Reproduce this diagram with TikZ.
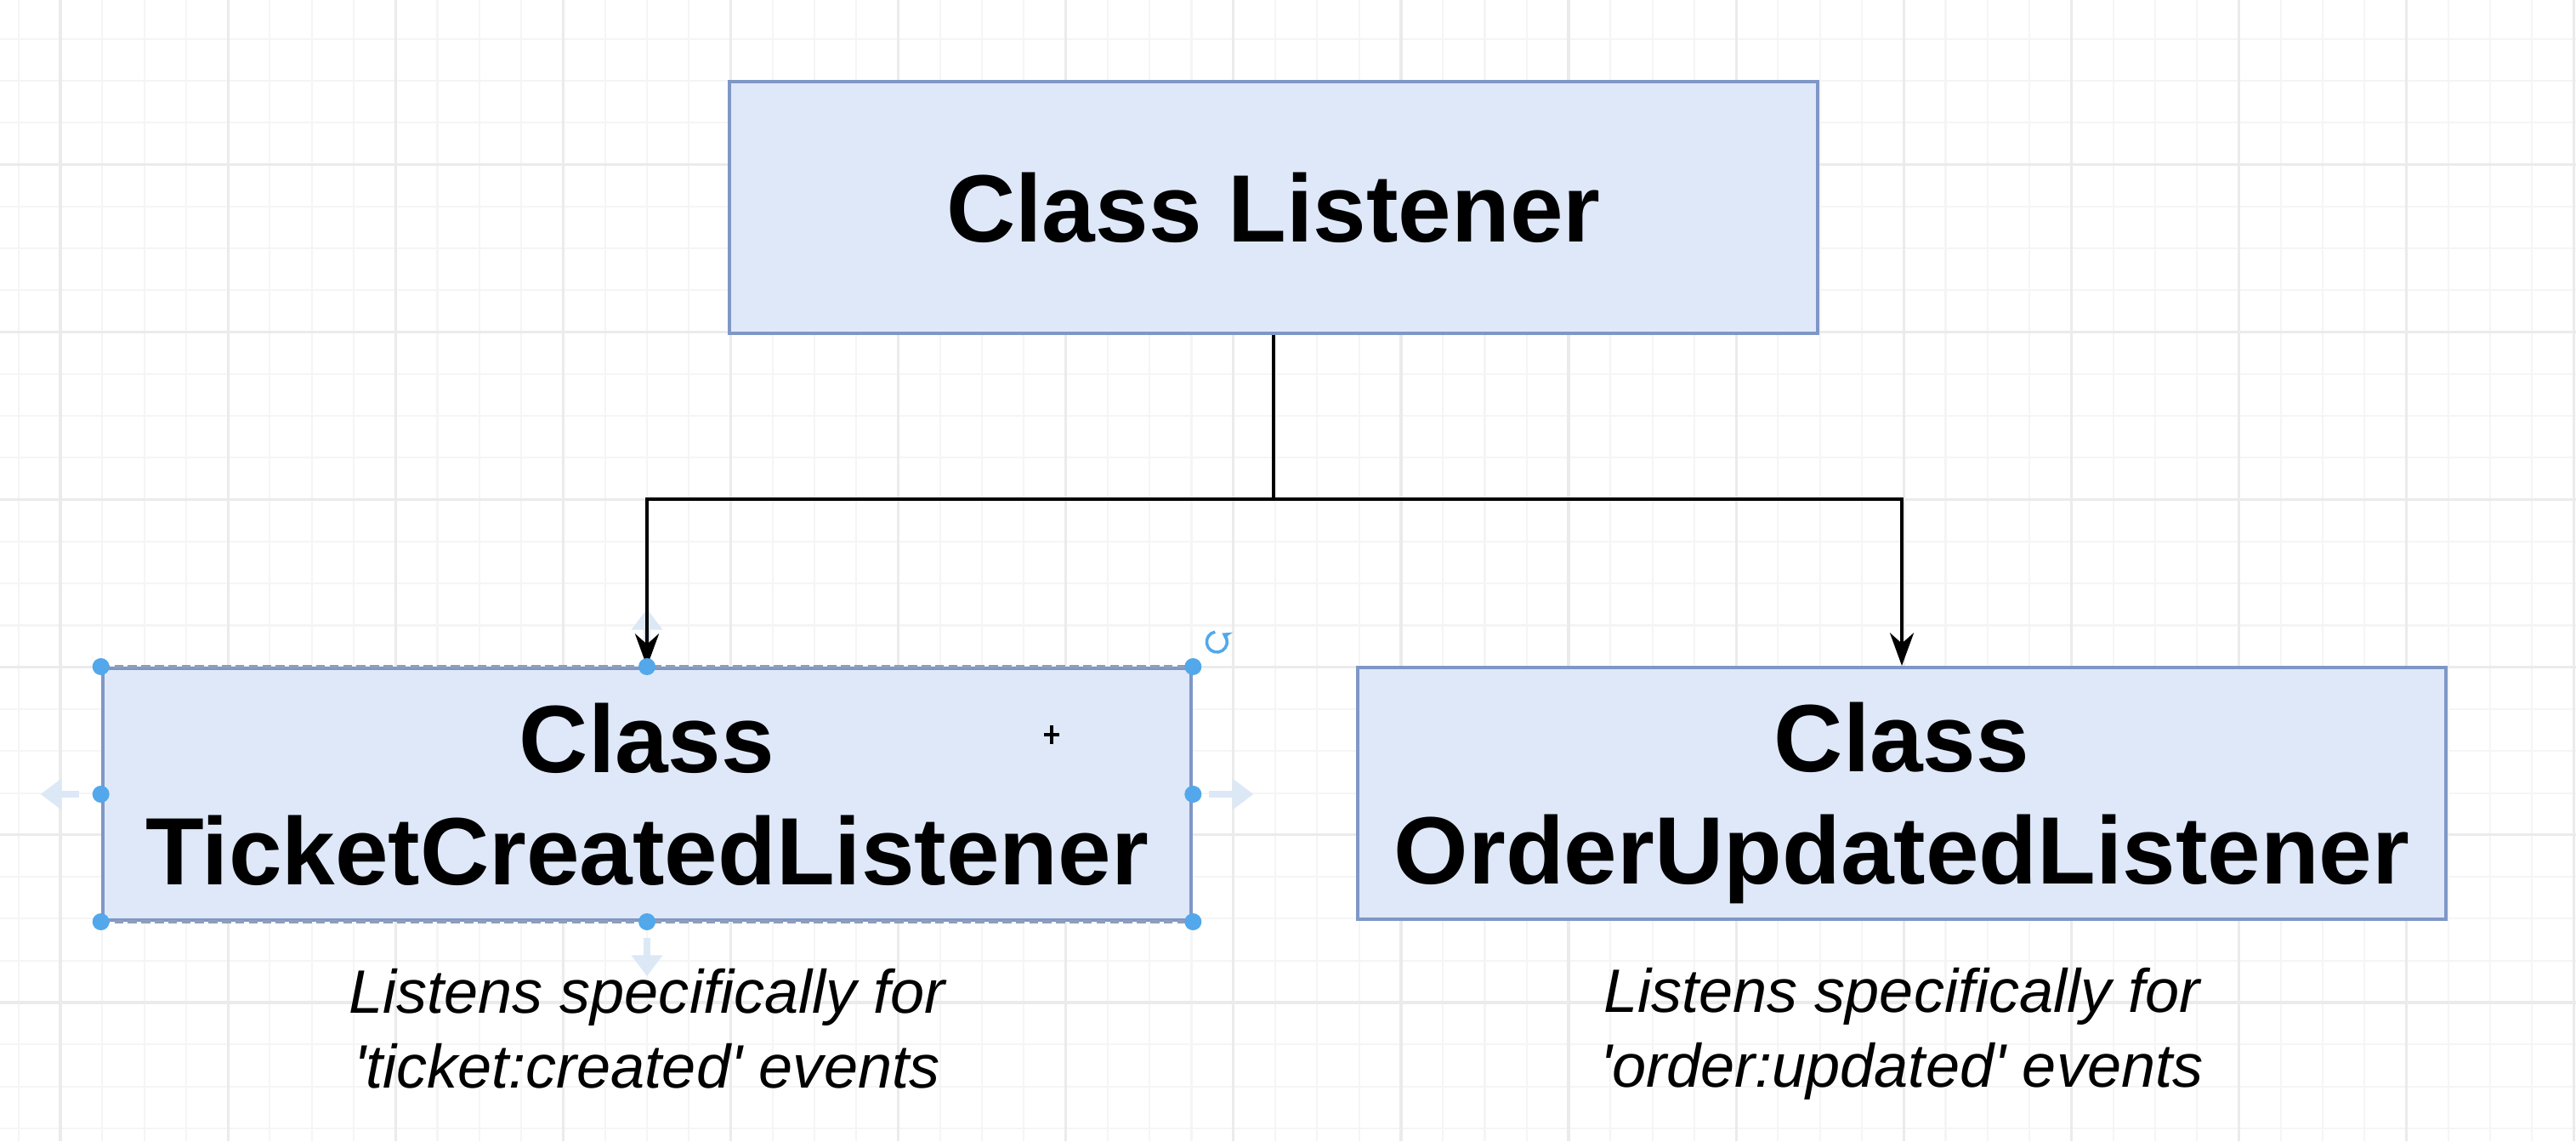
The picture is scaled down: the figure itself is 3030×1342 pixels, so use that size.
\documentclass[tikz,border=0pt]{standalone}
\usepackage{fontspec}
\setmainfont{Liberation Sans}
\usetikzlibrary{arrows.meta,positioning}
\definecolor{boxfill}{HTML}{DEE8F8}
\definecolor{boxline}{HTML}{7F97C6}
\definecolor{handleblue}{HTML}{52A8EA}
\definecolor{hoverblue}{HTML}{DCE8F5}
\definecolor{selline}{HTML}{8E9DBB}
\definecolor{gridminor}{HTML}{F5F5F5}
\definecolor{gridmajor}{HTML}{EBEBEB}
\tikzset{
	classbox/.style={draw=boxline,fill=boxfill,line width=1.1pt,minimum width=12.8cm,minimum height=2.96cm,inner sep=0pt,align=center,text depth=0pt,font=\fontsize{32}{37.5}\selectfont\bfseries},
	note/.style={align=center,inner sep=0pt,font=\fontsize{20.5}{24.8}\selectfont\itshape},
	link/.style={line width=1.1pt,-{Stealth[length=11pt,width=8pt,inset=3.5pt]}},
	handle/.style={fill=handleblue},
	selection/.style={selline,line width=1.1pt,dash pattern=on 3pt off 1.5pt},
	hover/.style={hoverblue,line width=2.4pt,-{Triangle[length=7pt,width=10pt]}}
}

\begin{document}
\begin{tikzpicture}[x=0.01cm,y=0.01cm]
	\fill[white] (0,0) rectangle (3030,1342);
	\useasboundingbox (0,0) rectangle (3030,1342);
	\begin{scope}[shift={(71,163)}]
		\draw[step=0.4925cm,color=gridminor,line width=0.6pt] (-71,-163) grid (2959,1179);
		\draw[step=1.97cm,color=gridmajor,line width=0.9pt] (-71,-163) grid (2959,1179);
	\end{scope}

	\draw[hover] (761,578) -- ++(0,48);

	\node[classbox] (listener) at (1498,1098) {Class Listener};
	\node[classbox] (ticket) at (761,408) {Class\\TicketCreatedListener};
	\node[classbox] (order) at (2237,409) {Class\\OrderUpdatedListener};

	\node[note,below=0.55cm of ticket] (ticketnote) {Listens specifically for\\\textquotesingle ticket:created\textquotesingle{} events};
	\node[note,below=0.55cm of order] (ordernote) {Listens specifically for\\\textquotesingle order:updated\textquotesingle{} events};

	\draw[line width=1.1pt] (listener.south) -- ++(0,-193) coordinate (fork);
	\draw[link] (fork) -| (ticket.north);
	\draw[link] (fork) -| (order.north);

	\draw[selection] (ticket.north west) -- (ticket.north east) (ticket.south west) -- (ticket.south east);
	\foreach \a in {north west,north,north east,east,south east,south,south west,west}
		\fill[handle] (ticket.\a) circle (10);
	\draw[hover] ([xshift=-0.26cm]ticket.west) -- ++(-45,0);
	\draw[hover] ([xshift=0.19cm]ticket.east) -- ++(52,0);
	\draw[hover] ([yshift=-0.19cm]ticket.south) -- ++(0,-45);

	\coordinate (rotate) at ([shift={(28,29)}]ticket.north east);
	\draw[handleblue,line width=1pt,-{Stealth[length=3pt,width=4pt]}] (rotate) ++(100:12) arc (100:420:12);
	\coordinate (cursor) at (1237,478);
	\draw[line width=0.9pt] (cursor) ++(0,-11) -- ++(0,22) (cursor) ++(-9,0) -- ++(18,0);
\end{tikzpicture}
\end{document}
